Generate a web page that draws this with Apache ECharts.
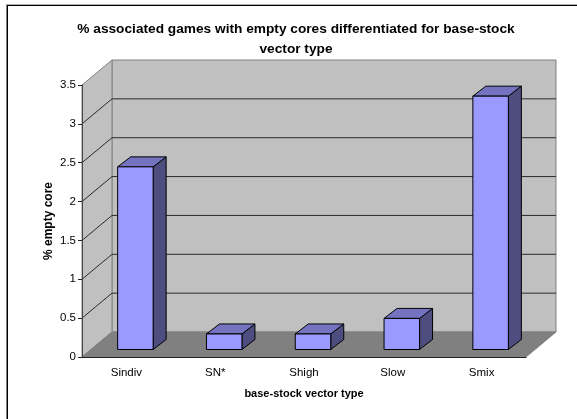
<!DOCTYPE html>
<html>
<head>
<meta charset="utf-8">
<style>html,body{margin:0;padding:0;background:#fff}#chart{width:577px;height:419px}</style>
<script src="https://cdn.jsdelivr.net/npm/echarts@6/dist/echarts.min.js"></script>
</head>
<body>
<div id="chart"></div>
<script>
// Empty-core share per base-stock vector type
const categories = ['Sindiv', 'SN*', 'Shigh', 'Slow', 'Smix'];
const emptyCore = [2.35, 0.2, 0.2, 0.4, 3.26];
const yTicks = [0.5, 1, 1.5, 2, 2.5, 3];

// Pseudo-3D projection offsets, in pixels
const wallDepth = [30, -25];
const barInset = [9, -7.5];
const barDepth = [13, -10];
const barWidth = 35.5;

const font = '"Liberation Sans", Arial, sans-serif';
const chart = echarts.init(document.getElementById('chart'), null, {renderer: 'canvas'});

function poly(points, fill, stroke, lineWidth) {
  return {
    type: 'polygon',
    shape: {points},
    style: {fill, stroke: stroke || null, lineWidth: lineWidth || 0, lineJoin: 'miter'}
  };
}

// Floor and the two walls, spanned from the axis extents
function renderRoom(params, api) {
  const band = api.size([1, 0])[0];
  const x0 = api.coord([0, 0])[0] - band / 2;
  const x1 = api.coord([categories.length - 1, 0])[0] + band / 2;
  const yB = api.coord([0, 0])[1];
  const yT = api.coord([0, 3.5])[1];
  const dx = wallDepth[0], dy = wallDepth[1];
  return {
    type: 'group',
    children: [
      poly([[x0 + dx, yT + dy], [x1 + dx, yT + dy], [x1 + dx, yB + dy], [x0 + dx, yB + dy]], '#c0c0c0', '#808080', 1),
      poly([[x0, yT], [x0 + dx, yT + dy], [x0 + dx, yB + dy], [x0, yB]], '#c0c0c0', '#808080', 1),
      poly([[x0, yB], [x0 + dx, yB + dy], [x1 + dx, yB + dy], [x1, yB]], '#808080', '#808080', 1)
    ]
  };
}

// Gridline: slanted across the side wall, level along the back wall
function renderGrid(params, api) {
  const band = api.size([1, 0])[0];
  const x0 = api.coord([0, 0])[0] - band / 2;
  const x1 = api.coord([categories.length - 1, 0])[0] + band / 2;
  const y = api.coord([0, api.value(1)])[1];
  return {
    type: 'polyline',
    shape: {points: [[x0, y], [x0 + wallDepth[0], y + wallDepth[1]], [x1 + wallDepth[0], y + wallDepth[1]]]},
    style: {fill: null, stroke: '#2a2a2a', lineWidth: 1}
  };
}

function renderBar(params, api) {
  const base = api.coord([api.value(0), 0]);
  const top = api.coord([api.value(0), api.value(1)]);
  const xl = base[0] + barInset[0] - barWidth / 2;
  const xr = xl + barWidth;
  const yb = base[1] + barInset[1];
  const yt = top[1] + barInset[1];
  const dx = barDepth[0], dy = barDepth[1];
  return {
    type: 'group',
    children: [
      poly([[xr, yb], [xr + dx, yb + dy], [xr + dx, yt + dy], [xr, yt]], '#4d4d80', '#000', 1),
      poly([[xl, yt], [xl + dx, yt + dy], [xr + dx, yt + dy], [xr, yt]], '#7373bf', '#000', 1),
      poly([[xl, yb], [xl, yt], [xr, yt], [xr, yb]], '#9999ff', '#000', 1)
    ]
  };
}

chart.setOption({
  animation: false,
  backgroundColor: '#fff',
  title: {
    text: '% associated games with empty cores differentiated for base-stock\nvector type',
    left: 291,
    top: 14,
    textAlign: 'center',
    textStyle: {fontFamily: font, fontSize: 13.7, fontWeight: 'bold', color: '#000', lineHeight: 20}
  },
  grid: {left: 82, right: 51, top: 85, bottom: 62, containLabel: false},
  xAxis: {
    type: 'category',
    data: categories,
    z: 5,
    name: 'base-stock vector type',
    nameLocation: 'middle',
    nameGap: 31,
    nameTextStyle: {fontFamily: font, fontSize: 11, fontWeight: 'bold', color: '#000'},
    axisLine: {lineStyle: {color: '#222', width: 1}},
    axisTick: {length: 5, lineStyle: {color: '#222'}, alignWithLabel: false},
    axisLabel: {fontFamily: font, fontSize: 11.5, color: '#000', margin: 10},
    splitLine: {show: false}
  },
  yAxis: {
    type: 'value',
    min: 0,
    max: 3.5,
    interval: 0.5,
    z: 5,
    name: '% empty core',
    nameLocation: 'middle',
    nameGap: 27,
    nameMoveOverlap: false,
    nameTextStyle: {fontFamily: font, fontSize: 12, fontWeight: 'bold', color: '#000'},
    axisLine: {show: true, lineStyle: {color: '#444', width: 1}},
    axisTick: {show: true, length: 4, lineStyle: {color: '#222'}},
    axisLabel: {fontFamily: font, fontSize: 11.5, color: '#000', margin: 6},
    splitLine: {show: false}
  },
  graphic: [
    {type: 'line', silent: true, shape: {x1: 6, y1: 4.5, x2: 577, y2: 4.5}, style: {stroke: '#b0b0b0', lineWidth: 1}},
    {type: 'line', silent: true, shape: {x1: 6.5, y1: 5, x2: 6.5, y2: 419}, style: {stroke: '#808080', lineWidth: 1}},
    {type: 'line', silent: true, shape: {x1: 7, y1: 5.5, x2: 577, y2: 5.5}, style: {stroke: '#000', lineWidth: 1}},
    {type: 'line', silent: true, shape: {x1: 7.5, y1: 5, x2: 7.5, y2: 419}, style: {stroke: '#000', lineWidth: 1}}
  ],
  series: [
    {type: 'custom', coordinateSystem: 'cartesian2d', silent: true, z: 1, renderItem: renderRoom, data: [[0, 0]]},
    {type: 'custom', coordinateSystem: 'cartesian2d', silent: true, z: 2, renderItem: renderGrid, data: yTicks.map(v => [0, v])},
    {type: 'custom', coordinateSystem: 'cartesian2d', silent: true, z: 3, renderItem: renderBar, data: emptyCore.map((v, i) => [i, v])}
  ]
});
</script>
</body>
</html>
